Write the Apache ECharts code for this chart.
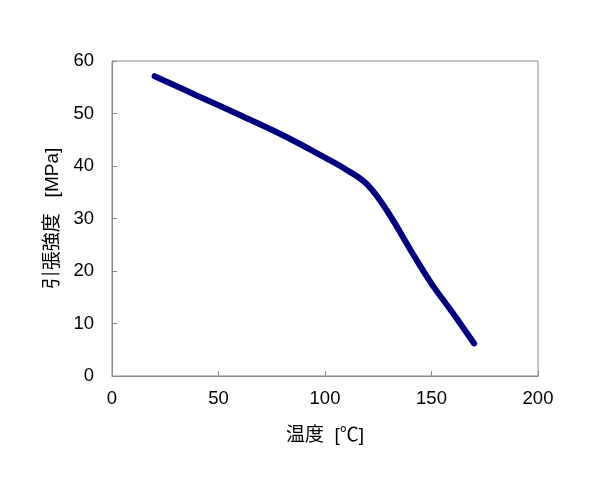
<!DOCTYPE html>
<html><head><meta charset="utf-8">
<script src="https://cdn.jsdelivr.net/npm/echarts@6/dist/echarts.min.js"></script>
<style>html,body{margin:0;padding:0;background:#fff}#c{width:600px;height:500px}</style>
</head><body><div id="c"></div>
<script>
const temperature = [20, 40, 60, 80, 100, 110, 120, 130, 140, 150, 160, 170];
const strength = [57.1, 53.4, 49.7, 45.9, 41.6, 39.3, 36.4, 30.9, 24.1, 17.6, 12.0, 6.2];
const xTicks = [0, 50, 100, 150, 200];
const yTicks = [0, 10, 20, 30, 40, 50, 60];
const xTitle = '温度  [℃]';
const yTitle = '引張強度   [MPa]';

const font = 'Liberation Sans, Arial, Noto Sans CJK JP, sans-serif';
const chart = echarts.init(document.getElementById('c'), null, {renderer: 'canvas'});
chart.setOption({
  animation: false,
  backgroundColor: '#fff',
  grid: {left: 112, right: 62, top: 61, bottom: 124, show: true, borderColor: '#888', borderWidth: 1},
  xAxis: {
    type: 'value', min: xTicks[0], max: xTicks[xTicks.length - 1], interval: 50,
    name: xTitle, nameLocation: 'middle', nameGap: 50,
    nameTextStyle: {fontSize: 19, color: '#000', fontFamily: font},
    axisLine: {lineStyle: {color: '#888'}},
    axisTick: {inside: true, length: 5, lineStyle: {color: '#888'}},
    axisLabel: {fontSize: 18.5, color: '#000', margin: 14, fontFamily: font},
    splitLine: {show: false}
  },
  yAxis: {
    type: 'value', min: yTicks[0], max: yTicks[yTicks.length - 1], interval: 10,
    name: yTitle, nameLocation: 'middle', nameGap: 48,
    nameTextStyle: {fontSize: 19, color: '#000', fontFamily: font},
    axisLine: {show: true, lineStyle: {color: '#888'}},
    axisTick: {show: true, inside: true, length: 5, lineStyle: {color: '#888'}},
    axisLabel: {fontSize: 18.5, color: '#000', margin: 18, fontFamily: font},
    splitLine: {show: false}
  },
  series: [{
    type: 'line',
    data: temperature.map((t, i) => [t, strength[i]]),
    smooth: 0.4,
    showSymbol: false,
    lineStyle: {color: '#000080', width: 6, cap: 'round', join: 'round'}
  }]
});
</script></body></html>
